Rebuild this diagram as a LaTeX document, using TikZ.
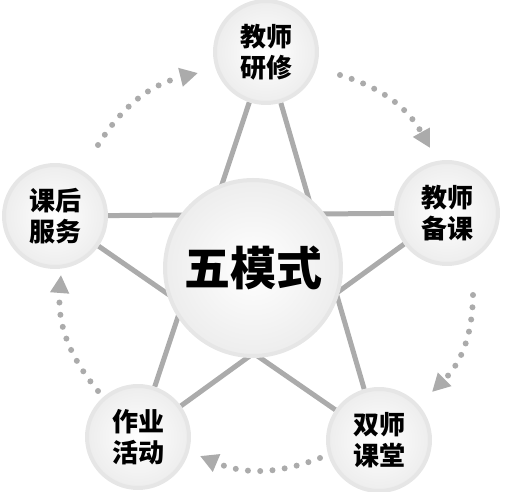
\documentclass[tikz,border=0pt]{standalone}
\usepackage{fontspec}
\newfontfamily\cjk{Noto Sans CJK SC}
\definecolor{linea}{HTML}{ABABAB}
\definecolor{borde}{HTML}{E6E6E6}
\usetikzlibrary{arrows.meta, backgrounds}

\begin{document}
\begin{tikzpicture}[x=1pt, y=1pt,
  modo/.style={circle, draw=borde, line width=4pt, inner sep=0pt, minimum size=102pt,
    shading=radial, inner color=white, outer color=gray!14, align=center,
    font=\cjk\bfseries\fontsize{26}{31}\selectfont},
  centro/.style={modo, minimum size=176pt, font=\cjk\bfseries\fontsize{46}{50}\selectfont},
  estrella/.style={draw=linea, line width=5pt},
  flujo/.style={draw=linea, line width=6pt, line cap=round, dash pattern=on 0pt off 12.3pt,
    -{Triangle[length=18pt, width=18pt]}}]
\useasboundingbox (0,0) rectangle (506,492);

% nodos
\node[centro] (cinco) at (253,224) {五模式};
\node[modo] (yanxiu) at (266,440) {教师\\研修};
\node[modo] (beike) at (447,279) {教师\\备课};
\node[modo] (ketang) at (379,52) {双师\\课堂};
\node[modo] (zuoye) at (138,55) {作业\\活动};
\node[modo] (kehou) at (55,276) {课后\\服务};

% estrella
\begin{scope}[on background layer]
\draw[estrella] (yanxiu) -- (zuoye);
\draw[estrella] (yanxiu) -- (ketang);
\draw[estrella] (kehou) -- (beike);
\draw[estrella] (kehou) -- (ketang);
\draw[estrella] (beike) -- (zuoye);
\end{scope}

% ciclo
\coordinate (yanxiu-out) at (340,417);
\coordinate (beike-in) at (430,344);
\coordinate (beike-out) at (473,197);
\coordinate (ketang-in) at (432,100);
\coordinate (ketang-out) at (320,34);
\coordinate (zuoye-in) at (200,36);
\coordinate (zuoye-out) at (98,101);
\coordinate (kehou-in) at (61,217);
\coordinate (kehou-out) at (98,347);
\coordinate (yanxiu-in) at (198,419);
\draw[flujo] (yanxiu-out) to[bend left=22] (beike-in);
\draw[flujo] (beike-out) to[bend left=22] (ketang-in);
\draw[flujo] (ketang-out) to[bend left=22] (zuoye-in);
\draw[flujo] (zuoye-out) to[bend left=22] (kehou-in);
\draw[flujo] (kehou-out) to[bend left=22] (yanxiu-in);
\end{tikzpicture}
\end{document}
